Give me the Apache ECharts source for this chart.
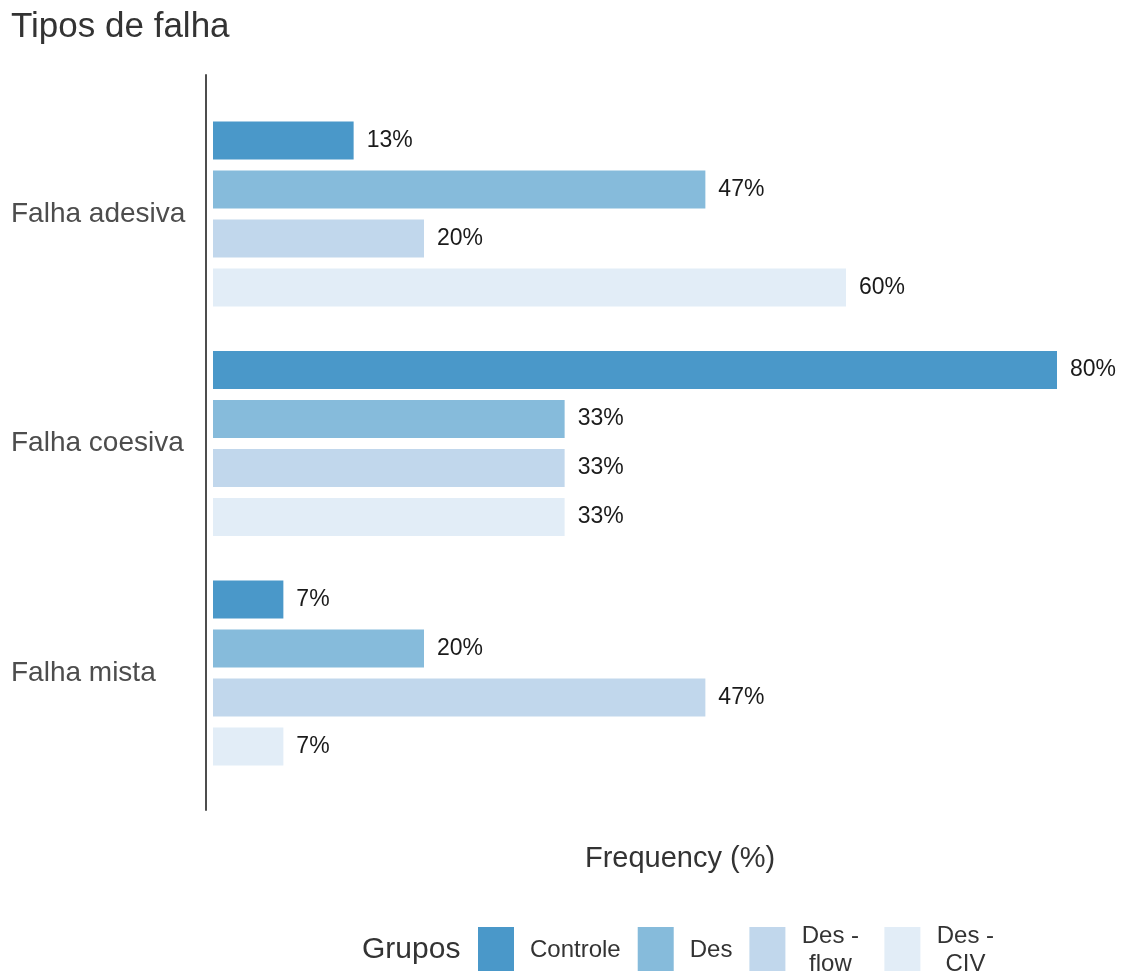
<!DOCTYPE html>
<html>
<head>
<meta charset="utf-8">
<script src="https://cdn.jsdelivr.net/npm/echarts@6/dist/echarts.min.js"></script>
<style>
  html, body { margin: 0; padding: 0; background: #fff; }
  #chart { width: 1123px; height: 971px; }
</style>
</head>
<body>
<div id="chart"></div>
<script>
// dados (percentual por grupo)
var categorias = ['Falha adesiva', 'Falha coesiva', 'Falha mista'];
var grupos = ['Controle', 'Des', 'Des - flow', 'Des - CIV'];
var controle = [13.33, 80, 6.67];
var des = [46.67, 33.33, 20];
var desFlow = [20, 33.33, 46.67];
var desCiv = [60, 33.33, 6.67];
var cores = ['#4a98c9', '#86bbdb', '#c1d7ec', '#e2edf7'];

var fonte = 'Liberation Sans, Arial, sans-serif';
var valores = [controle, des, desFlow, desCiv];

var series = grupos.map(function (nome, i) {
  return {
    name: nome,
    type: 'bar',
    xAxisIndex: 0,
    yAxisIndex: 0,
    data: valores[i],
    barWidth: 38,
    barGap: '29%',
    itemStyle: { color: cores[i] },
    label: {
      show: true,
      position: 'right',
      distance: 13,
      fontFamily: fonte,
      fontSize: 23,
      color: '#1a1a1a',
      formatter: function (p) { return Math.round(p.value) + '%'; }
    }
  };
});

var myChart = echarts.init(document.getElementById('chart'));
var option = {
  backgroundColor: '#fff',
  animation: false,
  color: cores,
  title: [
    { text: 'Tipos de falha', left: 11, top: 10, padding: 0,
      textStyle: { fontFamily: fonte, fontSize: 35, fontWeight: 'normal', color: '#333' } },
    { text: 'Frequency (%)', left: 680, top: 844, padding: 0, textAlign: 'center',
      textStyle: { fontFamily: fonte, fontSize: 29, fontWeight: 'normal', color: '#333' } },
    { text: 'Grupos', left: 362, top: 935, padding: 0,
      textStyle: { fontFamily: fonte, fontSize: 30, fontWeight: 'normal', color: '#333' } }
  ],
  legend: {
    data: grupos,
    left: 478,
    top: 924,
    padding: 0,
    itemWidth: 36,
    itemHeight: 46,
    itemGap: 17,
    icon: 'rect',
    formatter: function (n) {
      if (n.indexOf(' - ') < 0) return n;
      var p = n.split(' - ');
      // espaço extra à direita só no "Des - flow"
      var s = n === 'Des - flow' ? '{s|}' : '';
      return '{c|' + p[0] + ' -}' + s + '\n{c|' + p[1] + '}' + s;
    },
    textStyle: {
      fontFamily: fonte, fontSize: 24, color: '#333', padding: [0, 0, 0, 11],
      rich: {
        c: { width: 58, align: 'center', fontFamily: fonte, fontSize: 24, lineHeight: 28, color: '#333' },
        s: { width: 8, lineHeight: 28 }
      }
    }
  },
  grid: [
    { left: 213, right: 66, top: 99.25, height: 688.5 },
    { left: 205.5, width: 1, top: 75, height: 735 }
  ],
  xAxis: [
    { type: 'value', gridIndex: 0, min: 0, max: 80, show: false },
    { type: 'value', gridIndex: 1, min: 0, max: 1, show: false }
  ],
  yAxis: [
    {
      type: 'category', gridIndex: 0, data: categorias, inverse: true,
      axisLine: { show: false }, axisTick: { show: false },
      axisLabel: { align: 'left', margin: 202, fontFamily: fonte, fontSize: 28, color: '#4d4d4d' }
    },
    {
      type: 'value', gridIndex: 1, min: 0, max: 1,
      axisLine: { show: true, lineStyle: { color: '#4d4d4d', width: 2 } },
      axisTick: { show: false }, axisLabel: { show: false }, splitLine: { show: false }
    }
  ],
  series: series
};
myChart.setOption(option);
</script>
</body>
</html>
